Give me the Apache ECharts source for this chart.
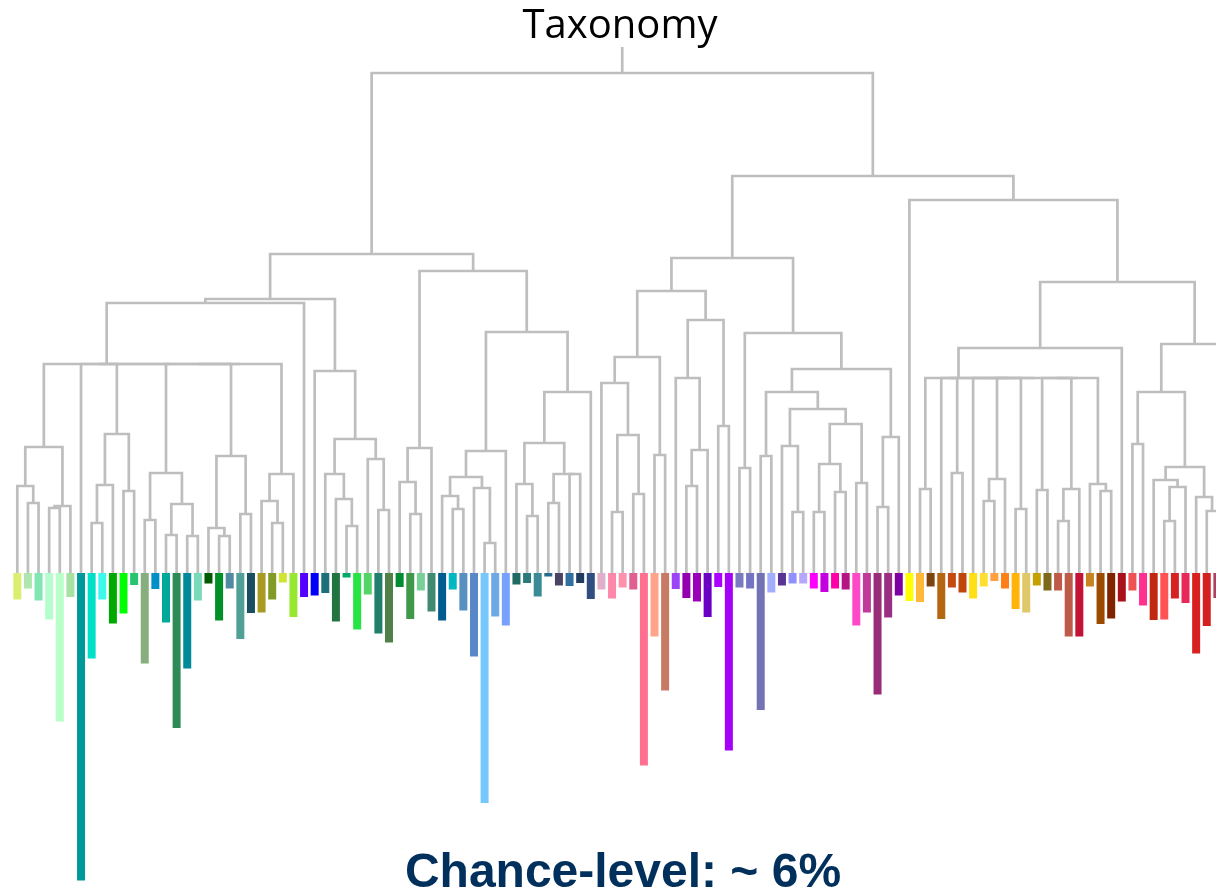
<!DOCTYPE html>
<html>
<head>
<meta charset="utf-8">
<script src="https://cdn.jsdelivr.net/npm/echarts@6/dist/echarts.min.js"></script>
<style>html,body{margin:0;padding:0;background:#fff}#c{width:1216px;height:895px}</style>
</head>
<body>
<div id="c"></div>
<script>
// Bar value (accuracy, %) for each leaf, left to right. Leaf 114 lies beyond the visible area.
const leafValues = [
  5.3, 3.1, 5.5, 9.3, 29.7, 4.8, 61.5, 17.1, 5.3, 10.1,
  8.1, 2.4, 18.1, 3.2, 9.9, 31.0, 19.1, 5.5, 2.1, 9.5,
  3.1, 13.2, 8.0, 7.9, 5.3, 1.9, 8.8, 4.8, 4.5, 4.0,
  9.7, 0.9, 11.3, 4.3, 12.1, 13.9, 2.8, 9.2, 3.5, 7.7,
  9.5, 3.3, 7.5, 16.7, 46.0, 8.7, 10.5, 2.3, 2.0, 4.7,
  0.7, 2.5, 2.6, 2.0, 5.2, 3.3, 5.1, 2.9, 3.3, 38.5,
  12.7, 23.5, 3.2, 5.0, 5.7, 8.8, 2.8, 35.5, 2.9, 3.1,
  27.4, 3.9, 2.5, 2.1, 2.1, 3.1, 3.8, 3.1, 3.3, 10.5,
  7.9, 24.3, 8.9, 4.5, 5.6, 5.8, 2.7, 9.2, 2.9, 3.9,
  5.1, 2.7, 1.6, 3.1, 7.2, 7.9, 2.5, 3.5, 3.5, 12.7,
  12.7, 2.7, 10.2, 9.1, 5.7, 3.5, 6.5, 9.4, 9.3, 5.1,
  6.0, 16.1, 10.6, 5.0, null
];

const barColors = [
  '#dcee70','#aee6ae','#80e6b2','#b5fdcd','#b8ffc8','#a6e3a3','#009999','#00dfc8','#3ff8ec','#00a800',
  '#00ff00','#25c46e','#86ae7e','#0090c8','#00a89a','#2e8b57','#008a99','#78dab8','#005a00','#009028',
  '#508aa0','#50a098','#184e60','#a89a22','#829a28','#d2e432','#98e832','#5200ff','#0000f8','#1e7078',
  '#217340','#00aa66','#26e444','#52d466','#1f7f6a','#4f8048','#008a32','#40984a','#78d098','#408a72',
  '#005c8e','#00b8c4','#5890c0','#5888c8','#76c8fc','#6ea8e6','#78a0ff','#1f6b63','#2a7a7a','#3a8a98',
  '#2a6a8a','#4a4464','#3070a0','#203c60','#304e80','#e2afca','#fd88aa','#fe92ac','#e06090','#ff7090',
  '#ffa48a','#c97a64','#9a46f8','#9400b0','#9a00ba','#6a00c4','#aa00ff','#a400fa','#7a7ac0','#7474c4',
  '#7272b4','#a2aefc','#5a3494','#9290fc','#b4a8fc','#ff00ff','#c400e0','#ff00a8','#b41484','#ff48c8',
  '#c03a9a','#982c78','#9a2e82','#7c00a4','#ffff00','#ffb838','#7e4410','#b46612','#c44a12','#c0460c',
  '#ffe014','#ffe030','#ffa040','#ff8018','#ffb40a','#e0c868','#c4a000','#7e681a','#c05a48','#be5a48',
  '#c41236','#c88422','#9c4a00','#802400','#a8101a','#ee5254','#ff3090','#c02810','#ff5252','#d82222',
  '#e82858','#d82020','#d42020','#b04060','#b04060'
];

// Dendrogram merges: [name, left child, right child, merge height]. Numbers are leaves.
const merges = [
  ['a1', 1, 2, 0.70], ['a2', 0, 'a1', 0.87], ['a3', 3, 4, 0.65], ['a4', 'a3', 5, 0.67],
  ['a5', 'a2', 'a4', 1.26],
  ['b1', 7, 8, 0.50], ['b2', 'b1', 9, 0.88], ['b3', 10, 11, 0.82], ['b4', 'b2', 'b3', 1.39],
  ['c1', 12, 13, 0.53], ['c2', 14, 15, 0.38], ['c3', 16, 17, 0.37], ['c4', 'c2', 'c3', 0.69],
  ['c5', 'c1', 'c4', 1.00],
  ['d1', 19, 20, 0.37], ['d2', 18, 'd1', 0.45], ['d3', 21, 22, 0.59], ['d4', 'd2', 'd3', 1.17],
  ['e1', 24, 25, 0.50], ['e2', 23, 'e1', 0.72], ['e3', 'e2', 26, 0.99],
  ['f1', 6, 'b4', 2.09], ['f2', 'c5', 'd4', 2.09], ['f3', 'f2', 'e3', 2.09], ['f4', 'f1', 'f3', 2.09],
  ['f5', 'a5', 'f4', 2.09], ['f6', 'f5', 27, 2.70],
  ['k1', 31, 32, 0.47], ['k2', 30, 'k1', 0.74], ['k3', 29, 'k2', 0.99], ['k4', 34, 35, 0.63],
  ['k5', 33, 'k4', 1.14], ['k6', 'k3', 'k5', 1.34], ['k7', 28, 'k6', 2.02], ['k8', 'f6', 'k7', 2.74],
  ['l1', 37, 38, 0.59], ['l2', 36, 'l1', 0.91], ['l3', 'l2', 39, 1.25],
  ['m1', 41, 42, 0.64], ['m2', 40, 'm1', 0.77], ['m3', 44, 45, 0.30], ['m4', 43, 'm3', 0.85],
  ['m5', 'm2', 'm4', 0.96], ['m6', 'm5', 46, 1.22],
  ['n1', 48, 49, 0.57], ['n2', 47, 'n1', 0.89], ['n3', 50, 51, 0.70], ['n4', 52, 53, 0.99],
  ['n5', 'n3', 'n4', 0.99], ['n6', 'n2', 'n5', 1.30], ['n7', 'n6', 54, 1.81],
  ['m7', 'm6', 'n7', 2.41], ['m8', 'l3', 'm7', 3.02], ['left', 'k8', 'm8', 3.19],
  ['p1', 56, 57, 0.61], ['p2', 58, 59, 0.79], ['p3', 'p1', 'p2', 1.38], ['p4', 55, 'p3', 1.90],
  ['p5', 60, 61, 1.18], ['p6', 'p4', 'p5', 2.16],
  ['q1', 63, 64, 0.87], ['q2', 'q1', 65, 1.23], ['q3', 62, 'q2', 1.95], ['q4', 66, 67, 1.47],
  ['q5', 'q3', 'q4', 2.53], ['q6', 'p6', 'q5', 2.82],
  ['r1', 68, 69, 1.05],
  ['s1', 70, 71, 1.17], ['s2', 73, 74, 0.61], ['s3', 72, 's2', 1.27], ['s4', 75, 76, 0.61],
  ['s5', 77, 78, 0.81], ['s6', 's4', 's5', 1.09], ['s7', 79, 80, 0.90], ['s8', 's6', 's7', 1.49],
  ['s9', 's3', 's8', 1.64], ['s10', 's1', 's9', 1.81],
  ['t1', 81, 82, 0.66], ['t2', 't1', 83, 1.36],
  ['s11', 's10', 't2', 2.04], ['s12', 'r1', 's11', 2.40], ['s13', 'q6', 's12', 3.15],
  ['g1', 85, 86, 0.84], ['g3', 88, 89, 1.00], ['g5a', 91, 92, 0.72], ['g5', 'g5a', 93, 0.94],
  ['g6', 94, 95, 0.64], ['g7', 96, 97, 0.83], ['g8a', 98, 99, 0.52], ['g8', 'g8a', 100, 0.84],
  ['g9a', 102, 103, 0.82], ['g9', 101, 'g9a', 0.89],
  ['g10', 87, 'g3', 1.95], ['g11', 'g5', 'g6', 1.95], ['g12', 90, 'g11', 1.95],
  ['g13', 'g7', 'g8', 1.95], ['g14', 'g13', 'g9', 1.95], ['g15', 'g12', 'g14', 1.95],
  ['g16', 'g10', 'g15', 1.95], ['g17', 'g1', 'g16', 1.95], ['g18', 'g17', 104, 2.25],
  ['u1', 105, 106, 1.29], ['u2', 108, 109, 0.52], ['u3', 'u2', 110, 0.86], ['u4', 107, 'u3', 0.93],
  ['u5', 112, 113, 0.62], ['u6', 111, 'u5', 0.76], ['u7', 'u4', 'u6', 1.06], ['u8', 'u1', 'u7', 1.81],
  ['u9', 'u8', 114, 2.29], ['u10', 'g18', 'u9', 2.91],
  ['v1', 84, 'u10', 3.73], ['right', 's13', 'v1', 3.97],
  ['root', 'left', 'right', 5.00]
];
const rootTop = 5.26;

const titleText = 'Taxonomy';
const noteText = 'Chance-level: ~ 6%';

// Lay out the tree: leaves at their index, internal nodes at the midpoint of their children.
const pos = {}, hgt = {};
leafValues.forEach((v, i) => { pos[i] = i; hgt[i] = 0; });
const segs = [];
merges.forEach(([name, a, b, h]) => {
  segs.push([pos[a], pos[b], hgt[a], hgt[b], h]);
  pos[name] = (pos[a] + pos[b]) / 2;
  hgt[name] = h;
});
segs.push([pos.root, pos.root, hgt.root, hgt.root, rootTop]);

const barData = [];
leafValues.forEach((v, i) => {
  if (v != null) barData.push({ value: [i, v], itemStyle: { color: barColors[i] } });
});

const chart = echarts.init(document.getElementById('c'), null, { renderer: 'canvas' });
chart.setOption({
  animation: false,
  backgroundColor: '#ffffff',
  grid: { left: 0, right: 0, top: 0, bottom: 0, containLabel: false },
  xAxis: { type: 'value', min: -1.63, max: 112.87, show: false },
  yAxis: [
    { type: 'value', min: -3.22, max: 5.73, show: false },
    { type: 'value', min: -114.6, max: 64.4, inverse: true, show: false }
  ],
  graphic: [
    { type: 'text', x: 620, y: 27, style: { text: titleText, font: '40px "Open Sans"', fill: '#000', textAlign: 'center', textVerticalAlign: 'middle' } },
    { type: 'text', x: 623, y: 874, style: { text: noteText, font: 'bold 48px "Liberation Sans"', fill: '#00305b', textAlign: 'center', textVerticalAlign: 'middle' } }
  ],
  series: [
    {
      type: 'custom',
      yAxisIndex: 0,
      encode: { x: [0, 1], y: [2, 3, 4] },
      data: segs,
      silent: true,
      renderItem: function (params, api) {
        const x1 = api.value(0), x2 = api.value(1), h1 = api.value(2), h2 = api.value(3), h = api.value(4);
        const pts = [api.coord([x1, h1]), api.coord([x1, h]), api.coord([x2, h]), api.coord([x2, h2])];
        return { type: 'polyline', shape: { points: pts }, style: { stroke: '#bebebe', lineWidth: 2.7, fill: null, lineJoin: 'miter' } };
      }
    },
    {
      type: 'bar',
      yAxisIndex: 1,
      barWidth: 8,
      data: barData,
      silent: true
    }
  ]
});
</script>
</body>
</html>
